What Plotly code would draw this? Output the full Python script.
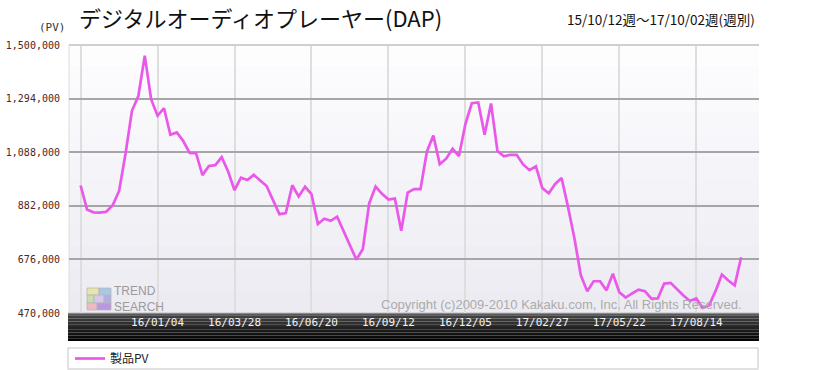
import pandas as pd
import plotly.graph_objects as go

# ---- data ----
start_week = "2015-10-12"
n_weeks = 104
pv_values = [
    960000, 868000, 857000, 856000, 859000, 884000, 939000, 1082000, 1247000, 1304000,
    1459000, 1291000, 1228000, 1257000, 1155000, 1164000, 1131000, 1085000, 1084000, 1000000,
    1035000, 1038000, 1069000, 1014000, 942000, 990000, 981000, 1001000, 979000, 958000,
    904000, 850000, 854000, 961000, 918000, 955000, 927000, 812000, 832000, 824000,
    840000, 785000, 732000, 675000, 715000, 891000, 956000, 928000, 906000, 910000,
    786000, 933000, 946000, 946000, 1091000, 1152000, 1042000, 1063000, 1101000, 1073000,
    1196000, 1276000, 1279000, 1155000, 1275000, 1092000, 1072000, 1078000, 1078000, 1041000,
    1019000, 1034000, 950000, 930000, 966000, 989000, 878000, 757000, 615000, 554000,
    592000, 592000, 557000, 621000, 550000, 529000, 545000, 560000, 554000, 525000,
    526000, 583000, 586000, 560000, 537000, 516000, 526000, 490000, 499000, 554000,
    618000, 595000, 576000, 684000,
]
series_name = "製品PV"
x_tick_dates = ["2015-10-12", "2016-01-04", "2016-03-28", "2016-06-20", "2016-09-12",
                "2016-12-05", "2017-02-27", "2017-05-22", "2017-08-14"]
x_tick_labels = ["", "16/01/04", "16/03/28", "16/06/20", "16/09/12",
                 "16/12/05", "17/02/27", "17/05/22", "17/08/14"]
y_tick_vals = [470000, 676000, 882000, 1088000, 1294000, 1500000]
y_tick_labels = ["470,000", "676,000", "882,000", "1,088,000", "1,294,000", "1,500,000"]
title_text = "デジタルオーディオプレーヤー(DAP)"
period_text = "15/10/12週～17/10/02週(週別)"

weeks = pd.date_range(start_week, periods=n_weeks, freq="7D")

fig = go.Figure()
fig.add_trace(go.Scatter(
    x=weeks, y=pv_values, mode="lines", name=series_name,
    line=dict(color="#ea58ea", width=2.7),
))

W, H = 828, 370
L, R, T, B = 69, 69, 45, 57
ph = H - T - B

def py(ypx):
    return (H - B - ypx) / ph

def px(xpx):
    return (xpx - L) / (W - L - R)

shapes = []
# plot background gradient
nb = 12
top_c = (253, 253, 254)
bot_c = (236, 235, 242)
for i in range(nb):
    f = i / (nb - 1)
    c = tuple(int(round(top_c[k] + (bot_c[k] - top_c[k]) * f)) for k in range(3))
    shapes.append(dict(type="rect", xref="paper", yref="paper", layer="below",
                       x0=0, x1=1, y0=1 - (i + 1) / nb, y1=1 - i / nb,
                       line=dict(width=0), fillcolor="rgb(%d,%d,%d)" % c))
# dark axis band gradient
band_top, band_bot = 313, 341
nbs = 10
for i in range(nbs):
    f = i / (nbs - 1)
    v = int(round(70 - 66 * f))
    y0p = band_top + (band_bot - band_top) * i / nbs
    y1p = band_top + (band_bot - band_top) * (i + 1) / nbs
    shapes.append(dict(type="rect", xref="paper", yref="paper", layer="below",
                       x0=px(68), x1=px(759), y0=py(y1p), y1=py(y0p),
                       line=dict(width=0), fillcolor="rgb(%d,%d,%d)" % (v, v, v)))
shapes.append(dict(type="line", xref="paper", yref="paper", layer="below",
                   x0=px(68), x1=px(759), y0=py(313.5), y1=py(313.5),
                   line=dict(color="#8a8a8a", width=1.5)))
# top border line
shapes.append(dict(type="line", xref="paper", yref="paper", layer="above",
                   x0=0, x1=1, y0=1, y1=1, line=dict(color="#cfcfcf", width=2)))
shapes.append(dict(type="line", xref="paper", yref="paper", layer="below",
                   x0=0, x1=0, y0=0, y1=1, line=dict(color="#dcdcdc", width=1)))
# legend box
shapes.append(dict(type="rect", xref="paper", yref="paper", layer="below",
                   x0=px(68), x1=px(758), y0=py(369), y1=py(348),
                   line=dict(color="#d8d8d8", width=1.5), fillcolor="white"))
# TREND SEARCH logo blocks
logo = [
    (87, 99, 288, 295, "#e8e6a8"), (99, 111, 288, 295, "#a8c8e8"),
    (87, 94, 295, 303, "#c8e0a8"), (94, 104, 295, 303, "#d8c8f0"), (104, 111, 295, 303, "#b0b0e8"),
    (87, 97, 303, 310, "#f0b8c0"), (97, 111, 303, 310, "#b898e0"),
]
for x0, x1, y0, y1, c in logo:
    shapes.append(dict(type="rect", xref="paper", yref="paper", layer="below",
                       x0=px(x0), x1=px(x1), y0=py(y1), y1=py(y0),
                       line=dict(color="#b8b8b8", width=0.8), fillcolor=c))

annotations = [
    dict(text=title_text, xref="paper", yref="paper", x=px(77), y=py(17),
         xanchor="left", yanchor="middle", showarrow=False,
         font=dict(family="Noto Sans CJK JP", size=22, color="#111111")),
    dict(text=period_text, xref="paper", yref="paper", x=px(757), y=py(19),
         xanchor="right", yanchor="middle", showarrow=False,
         font=dict(family="Noto Sans CJK JP", size=13.5, color="#111111")),
    dict(text="(PV)", xref="paper", yref="paper", x=px(68), y=py(28),
         xanchor="right", yanchor="middle", showarrow=False,
         font=dict(family="DejaVu Sans Mono", size=11, color="#333333")),
    dict(text="TREND<br>SEARCH", xref="paper", yref="paper", x=px(112), y=py(298.5),
         xanchor="left", yanchor="middle", align="left", showarrow=False,
         font=dict(family="Liberation Sans", size=12, color="#9a9a9a")),
    dict(text="Copyright (c)2009-2010 Kakaku.com, Inc. All Rights Reserved.",
         xref="paper", yref="paper", x=px(744), y=py(304),
         xanchor="right", yanchor="middle", showarrow=False,
         font=dict(family="Liberation Sans", size=13, color="#ababab")),
]

t0 = weeks[0] - pd.Timedelta(days=12.7)
t1 = weeks[-1] + pd.Timedelta(days=19.5)

fig.update_layout(
    width=W, height=H,
    margin=dict(l=L, r=R, t=T, b=B, pad=0, autoexpand=False),
    paper_bgcolor="white", plot_bgcolor="#f6f6f9",
    shapes=shapes, annotations=annotations,
    showlegend=True,
    legend=dict(x=px(70), y=py(344), xanchor="left", yanchor="top",
                bgcolor="rgba(0,0,0,0)", borderwidth=0,
                font=dict(family="Noto Sans CJK JP", size=12, color="#222222")),
    xaxis=dict(range=[t0, t1], tickvals=pd.to_datetime(x_tick_dates), ticktext=x_tick_labels,
               showgrid=True, gridcolor="#dedede", gridwidth=1.5, zeroline=False,
               showline=False, ticks="", ticklabelstandoff=1, automargin=False,
               tickfont=dict(family="DejaVu Sans Mono", size=11, color="#f2f2f2")),
    yaxis=dict(range=[470000, 1500000], tickvals=y_tick_vals, ticktext=y_tick_labels,
               showgrid=True, gridcolor="#a6a6a6", gridwidth=1.5, zeroline=False,
               showline=False, ticks="", ticklabelstandoff=8, automargin=False,
               tickfont=dict(family="DejaVu Sans Mono", size=10, color="#4e2626")),
)

fig.write_html("out.html", config={"displayModeBar": False},
               post_script="document.body.style.margin='0';document.body.style.overflow='hidden';")
